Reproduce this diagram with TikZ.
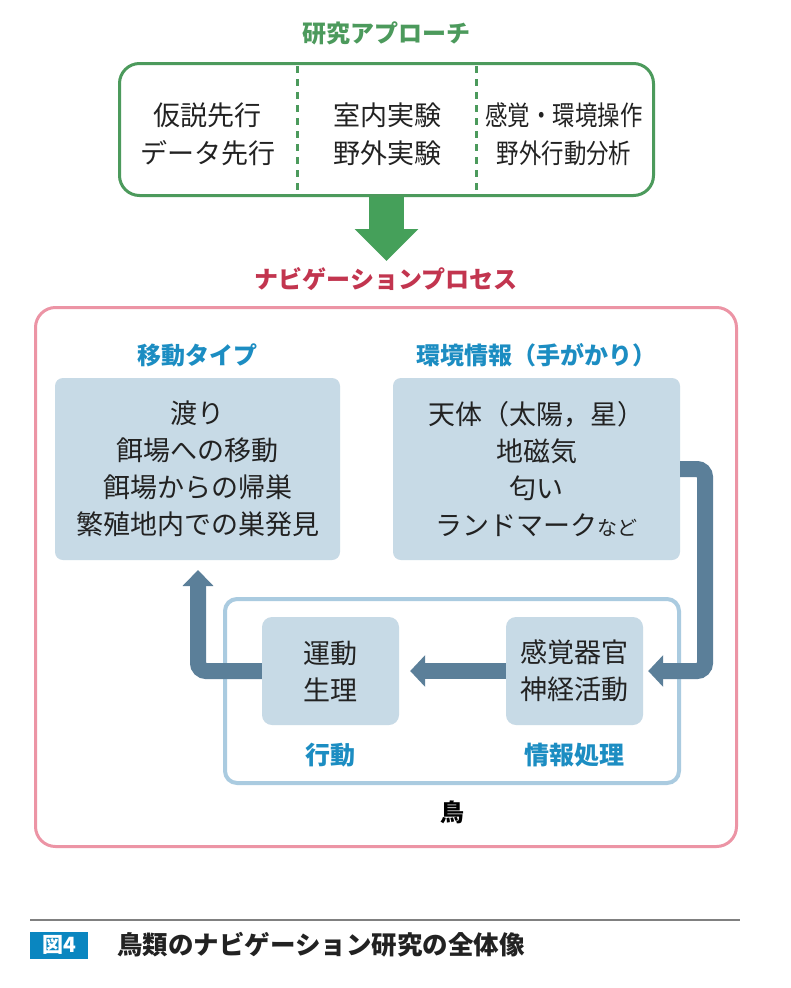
\documentclass[tikz,border=0pt]{standalone}
\usepackage{fontspec}
\setmainfont{Noto Sans CJK JP}
\usetikzlibrary{arrows.meta}
\definecolor{grn}{HTML}{4C9A5C}
\definecolor{grnarrow}{HTML}{45A05A}
\definecolor{crim}{HTML}{C2354F}
\definecolor{pinkb}{HTML}{EC94A5}
\definecolor{ttlblue}{HTML}{1C8DC2}
\definecolor{boxfill}{HTML}{C7DAE6}
\definecolor{arr}{HTML}{5B7F99}
\definecolor{birdline}{HTML}{AACBE0}
\definecolor{capblue}{HTML}{0A86C0}
\definecolor{txt}{HTML}{222222}
\newcommand{\narrowtxt}[1]{\scalebox{0.83}[1]{#1}}
\begin{document}
\begin{tikzpicture}[x=1pt,y=-1pt,
  body/.style={font=\fontsize{27}{38}\selectfont, align=center, inner sep=0pt, text=txt},
  lbox/.style={body, font=\fontsize{27}{37}\selectfont, fill=boxfill, rounded corners=8pt},
  ttl/.style={font=\bfseries\fontsize{24}{28}\selectfont, text=ttlblue, inner sep=0pt},
  conn/.style={draw=arr, line width=16pt},
]
\fill[white] (0,0) rectangle (790,988);
\useasboundingbox (0,0) rectangle (790,988);

% research approach
\node[font=\bfseries\fontsize{24}{28}\selectfont, text=grn, inner sep=0pt] (appt) at (386,33) {研究アプローチ};
\node[draw=grn, line width=3pt, rounded corners=20pt, minimum width=534pt, minimum height=132pt, inner sep=0pt] (approach) at (386.5,129.5) {};
\draw[grn, line width=3pt, dash pattern=on 7pt off 6pt] (297,66) -- (297,195);
\draw[grn, line width=3pt, dash pattern=on 7pt off 6pt] (476,66) -- (476,195);
\node[body] (a1) at (207.5,134) {仮説先行\\データ先行};
\node[body] (a2) at (387,134) {室内実験\\野外実験};
\node[body] (a3) at (564,134) {\narrowtxt{感覚・環境操作}\\\narrowtxt{野外行動分析}};
\draw[grnarrow, line width=35pt, -{Triangle[length=32pt,width=62pt]}] (approach.south) -- ++(0,64);

% navigation process
\node[font=\bfseries\fontsize{24}{28}\selectfont, text=crim, inner sep=0pt] (navt) at (386,279) {ナビゲーションプロセス};
\node[draw=pinkb, line width=3pt, rounded corners=20pt, minimum width=701pt, minimum height=539pt, inner sep=0pt] (nav) at (386,577) {};

\node[ttl] (movet) at (197,355) {移動タイプ};
\node[ttl] (envt) at (536,355) {環境情報（手がかり）};

\node[lbox, minimum width=285pt, minimum height=182pt] (move) at (197.5,469)
  {渡り\\餌場への移動\\餌場からの帰巣\\繁殖地内での巣発見};
\node[lbox, minimum width=287pt, minimum height=182pt] (env) at (536.5,469)
  {天体（太陽，星）\\地磁気\\匂い\\ランドマーク{\fontsize{20}{37}\selectfont など}};

% bird
\node[draw=birdline, line width=4pt, rounded corners=12pt, minimum width=454pt, minimum height=184pt, inner sep=0pt] (bird) at (452,691) {};
\node[lbox, minimum width=137pt, minimum height=108pt, rounded corners=10pt] (motor) at (330.5,671) {運動\\生理};
\node[lbox, minimum width=137pt, minimum height=108pt, rounded corners=10pt] (sense) at (574.5,671) {感覚器官\\神経活動};
\node[ttl, font=\bfseries\fontsize{25}{28}\selectfont] (motort) at (330,755) {行動};
\node[ttl, font=\bfseries\fontsize{25}{28}\selectfont] (senset) at (574,755) {情報処理};
\node[font=\bfseries\fontsize{24}{28}\selectfont, inner sep=0pt] (birdt) at (452,812) {鳥};

% connectors
\coordinate (c1) at (705,469);
\coordinate (c2) at (705,671);
\coordinate (c3) at (198,671);
\coordinate (lt) at (198,570);
\draw[conn, rounded corners=8pt, -{Triangle[length=15pt,width=31pt]}] (env.east) -- (c1) -- (c2) -- ([xshift=5pt]sense.east);
\draw[conn, -{Triangle[length=15pt,width=31pt]}] (sense.west) -- ([xshift=11pt]motor.east);
\draw[conn, rounded corners=8pt, -{Triangle[length=16pt,width=30pt]}] (motor.west) -- (c3) -- (lt);

% caption
\draw[black!50, line width=1.5pt] (30,920) -- (740,920);
\node[fill=capblue, text=white, font=\bfseries\fontsize{21}{24}\selectfont, minimum width=58pt, minimum height=27pt, inner sep=0pt] (fig) at (59,945) {図4};
\node[anchor=west, font=\bfseries\fontsize{25.5}{28}\selectfont, inner sep=0pt, text=txt] (cap) at (117,945) {鳥類のナビゲーション研究の全体像};
\end{tikzpicture}
\end{document}
